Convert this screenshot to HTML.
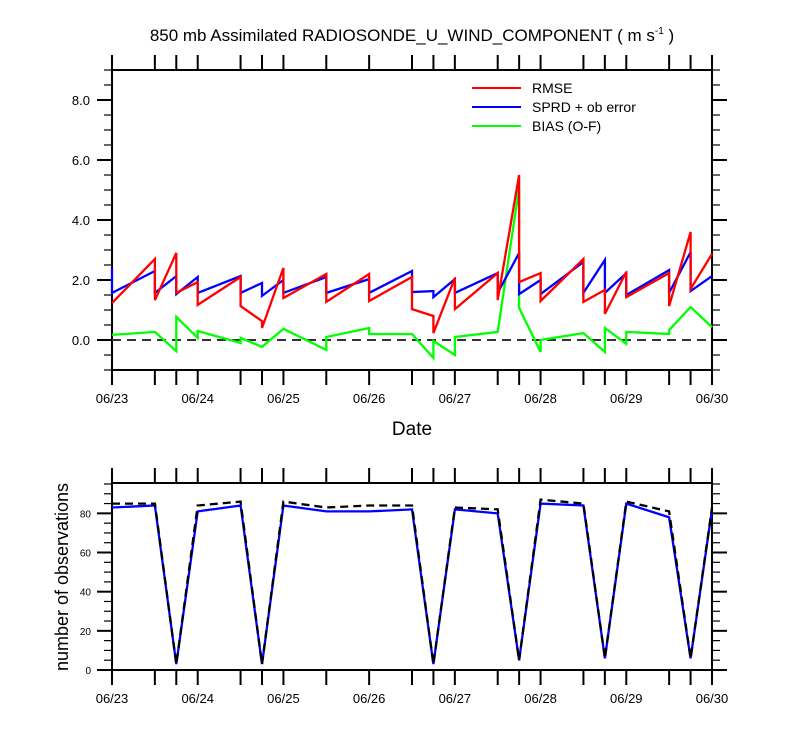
<!DOCTYPE html>
<html><head><meta charset="utf-8"><style>
body{margin:0;background:#fff}
svg{display:block;font-family:"Liberation Sans",sans-serif}
</style></head><body>
<svg id="c" width="800" height="750" xmlns="http://www.w3.org/2000/svg">
<text x="412" y="41" font-size="17" text-anchor="middle">850 mb Assimilated RADIOSONDE_U_WIND_COMPONENT ( m s<tspan font-size="10" dy="-7">-1</tspan><tspan dy="7"> )</tspan></text>
<text x="412" y="435" font-size="19" text-anchor="middle">Date</text>
<text transform="translate(68,577) rotate(-90)" font-size="18" text-anchor="middle">number of observations</text>
<g id="top"></g><g id="bot"></g>
<g>
<line x1="472" y1="88" x2="521" y2="88" stroke="#f00" stroke-width="2"/>
<text x="532" y="93" font-size="14">RMSE</text>
<line x1="472" y1="107" x2="521" y2="107" stroke="#00f" stroke-width="2"/>
<text x="532" y="112" font-size="14">SPRD + ob error</text>
<line x1="472" y1="126" x2="521" y2="126" stroke="#0f0" stroke-width="2"/>
<text x="532" y="131" font-size="14">BIAS (O-F)</text>
</g>
</svg>
<script>
const dateLabels=["06/23","06/24","06/25","06/26","06/27","06/28","06/29","06/30"];
const obsHours=[0,12,18,24,36,42,48,60,72,84,90,96,108,114,120,132,138,144,156,162,168];
const rmseT=[0,12,12,18,18,24,24,36,36,42,42,48,48,60,60,72,72,84,84,90,90,96,96,108,108,114,114,120,120,132,132,138,138,144,144,156,156,162,162,168];
const rmseV=[1.23,2.7,1.33,2.9,1.57,1.93,1.17,2.1,1.13,0.63,0.4,2.4,1.4,2.2,1.27,2.2,1.3,2.1,1.03,0.8,0.23,2.07,1.03,2.23,1.33,5.5,1.93,2.23,1.3,2.7,1.27,1.67,0.87,2.27,1.43,2.23,1.13,3.6,1.7,2.87];
const sprdT=[0,0,12,12,18,18,24,24,36,36,42,42,48,48,60,60,72,72,84,84,90,90,96,96,108,108,114,114,120,120,132,132,138,138,144,144,156,156,162,162,168];
const sprdV=[2.4,1.57,2.3,1.57,2.13,1.53,2.1,1.57,2.13,1.57,1.9,1.47,2.0,1.57,2.1,1.57,2.03,1.57,2.3,1.6,1.63,1.43,2.03,1.57,2.23,1.57,2.9,1.53,2.0,1.53,2.6,1.57,2.67,1.57,2.23,1.5,2.33,1.57,2.93,1.63,2.13];
const biasT=[0,12,18,18,24,24,36,36,42,48,60,60,72,72,84,90,90,96,96,108,114,114,120,120,132,138,138,144,144,156,156,162,168];
const biasV=[0.17,0.27,-0.37,0.77,0.07,0.3,-0.1,0.07,-0.23,0.37,-0.33,0.1,0.4,0.2,0.2,-0.6,-0.03,-0.5,0.1,0.27,5.07,1.07,-0.4,0.0,0.23,-0.4,0.4,-0.13,0.27,0.2,0.33,1.1,0.43];
const countUsed=[83,84,3,81,84,3,84,81,81,82,3,82,80,5,85,84,6,85,78,6,82];
const countTotal=[85,85,3,84,86,3,86,83,84,84,3,83,82,5,87,85,6,86,81,6,83];
const yTopTicks=["0.0","2.0","4.0","6.0","8.0"];
const yBotTicks=["0","20","40","60","80"];

const NS="http://www.w3.org/2000/svg";
const X0=112,X1=712;
const xs=h=>X0+(X1-X0)*h/168;
const yT=v=>340-30*v;
const yB=v=>670-(670-483)*v/95.5;
function mk(p,tag,at){const e=document.createElementNS(NS,tag);for(const k in at)e.setAttribute(k,at[k]);p.appendChild(e);return e;}
const gTop=document.getElementById('top'),gBot=document.getElementById('bot');

function frame(g,yt,yb,name){
  const r=mk(g,'rect',{x:X0,y:yt,width:X1-X0,height:yb-yt,fill:'none',stroke:'#000','stroke-width':2});
  
  
  obsHours.forEach(h=>{
    const a=mk(g,'line',{x1:xs(h),x2:xs(h),y1:yb,y2:yb+15,stroke:'#000','stroke-width':2});
    
    
    const b=mk(g,'line',{x1:xs(h),x2:xs(h),y1:yt-15,y2:yt,stroke:'#000','stroke-width':2});
    
    
  });
  dateLabels.forEach((d,i)=>{
    const t=mk(g,'text',{x:xs(i*24),y:yb+33,'font-size':13,'text-anchor':'middle'});
    t.textContent=d;
    
    
  });
}
function ytick(g,y,major){
  const l=major?15:8;
  mk(g,'line',{x1:X0-l,x2:X0,y1:y,y2:y,stroke:'#000','stroke-width':major?2:1.2});
  mk(g,'line',{x1:X1,x2:X1+l,y1:y,y2:y,stroke:'#000','stroke-width':major?2:1.2});
}
frame(gTop,70,370,'top-plot');
for(let v=-1;v<=9.001;v+=0.5){ytick(gTop,yT(v),Math.abs(v/2-Math.round(v/2))<1e-6);}
yTopTicks.forEach((s,i)=>{const t=mk(gTop,'text',{x:90,y:yT(i*2)+5,'font-size':13,'text-anchor':'end'});t.textContent=s;
  
  });
const z=mk(gTop,'line',{x1:X0,x2:X1,y1:yT(0),y2:yT(0),stroke:'#333','stroke-width':2,'stroke-dasharray':'9,6'});


function series(g,T,V,fx,fy,col,name,dash){
  const d=T.map((t,i)=>(i?'L':'M')+fx(t).toFixed(1)+','+fy(V[i]).toFixed(1)).join(' ');
  const p=mk(g,'path',{d:d,fill:'none',stroke:col,'stroke-width':2.3,'stroke-linejoin':'miter'});
  if(dash)p.setAttribute('stroke-dasharray',dash);
  
  
}
series(gTop,biasT,biasV,xs,yT,'#0f0','bias-line');
series(gTop,sprdT,sprdV,xs,yT,'#00f','sprd-line');
series(gTop,rmseT,rmseV,xs,yT,'#f00','rmse-line');

frame(gBot,483,670,'bottom-plot');
for(let v=0;v<=95;v+=5){ytick(gBot,yB(v),v%20===0);}
yBotTicks.forEach((s,i)=>{const t=mk(gBot,'text',{x:91,y:yB(i*20)+4,'font-size':10,'text-anchor':'end'});t.textContent=s;
  
  });
series(gBot,obsHours,countUsed,xs,yB,'#00f','count-used-line');
series(gBot,obsHours,countTotal,xs,yB,'#000','count-total-line','8,5');
</script>
</body></html>
